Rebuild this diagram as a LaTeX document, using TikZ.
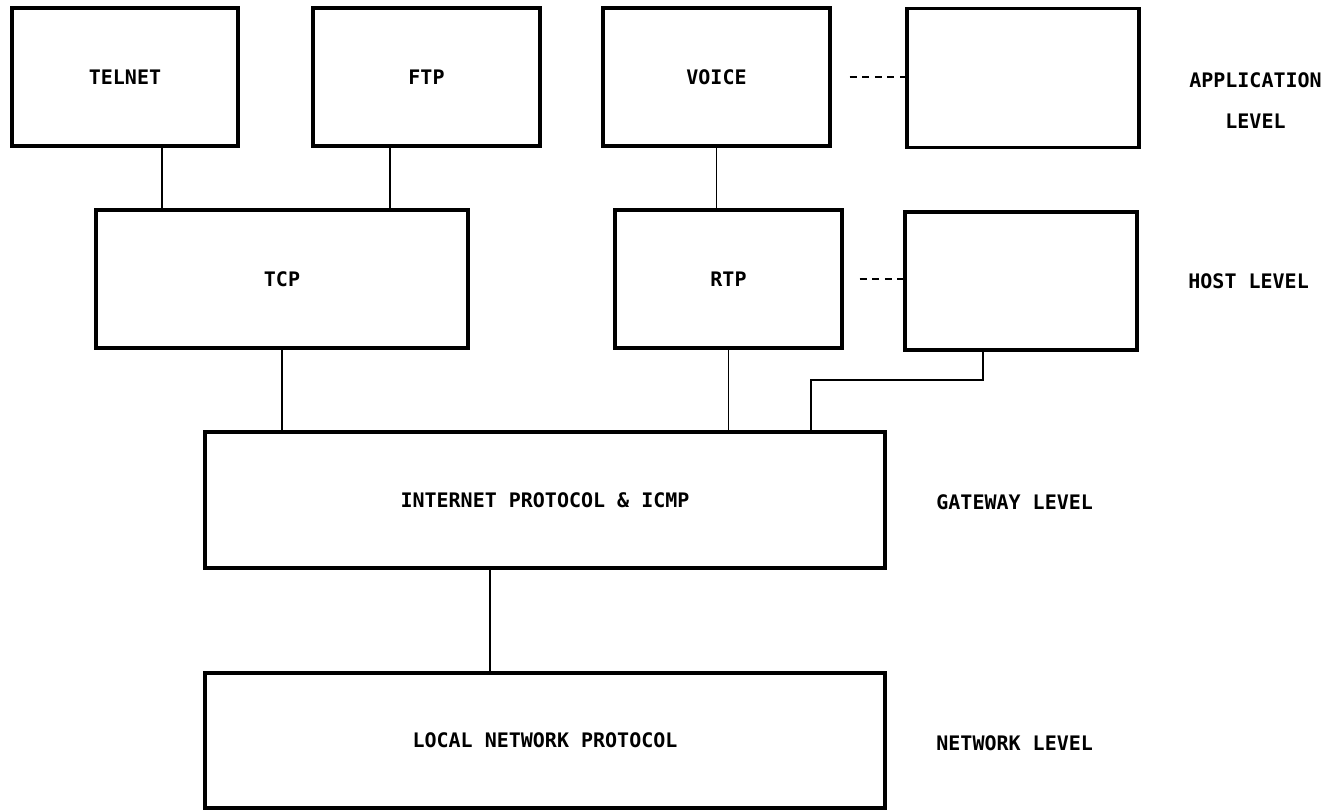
\documentclass[tikz,border=0pt]{standalone}
\usepackage{fontspec}
\setmainfont{DejaVu Sans Mono}
\begin{document}
\begin{tikzpicture}[x=0.5pt, y=-0.5pt,
    font=\fontsize{10}{12}\selectfont\bfseries,
    layer/.style 2 args={draw, line width=1.6pt, inner sep=0pt,
        minimum width=#1*0.5pt, minimum height=#2*0.5pt},
    link/.style={line width=0.65pt},
    more/.style={line width=1.1pt, dash pattern=on 3.5pt off 2.8pt},
    level/.style={inner sep=0pt, anchor=west}]

    \useasboundingbox (0,0) rectangle (1344,810);

    % ============================================================
    % APPLICATION LEVEL
    % ============================================================
    \node[layer={226}{138}] (telnet) at (125,77) {TELNET};
    \node[layer={227}{138}] (ftp) at (426.5,77) {FTP};
    \node[layer={227}{138}] (voice) at (716.5,77) {VOICE};
    \node[layer={232}{139}] (appmore) at (1023,78) {};

    % ============================================================
    % HOST LEVEL
    % ============================================================
    \node[layer={372}{138}] (tcp) at (282,279) {TCP};
    \node[layer={227}{138}] (rtp) at (728.5,279) {RTP};
    \node[layer={232}{138}] (hostmore) at (1021,281) {};

    % ============================================================
    % GATEWAY AND NETWORK LEVEL
    % ============================================================
    \node[layer={680}{136}] (ip) at (545,500) {INTERNET PROTOCOL \& ICMP};
    \node[layer={680}{135}] (lnp) at (545,740.5) {LOCAL NETWORK PROTOCOL};

    % ============================================================
    % LEVEL NAMES
    % ============================================================
    \node[align=center, font=\fontsize{10}{20.5}\selectfont\bfseries]
        (applbl) at (1255.5,100.5) {APPLICATION\\LEVEL};
    \node[level] (hostlbl) at (1188,281) {HOST LEVEL};
    \node[level] (gwlbl) at (936,502) {GATEWAY LEVEL};
    \node[level] (netlbl) at (936,743) {NETWORK LEVEL};

    % ============================================================
    % CONNECTIONS
    % ============================================================
    \coordinate (telnetx) at (162,0);
    \coordinate (ftpx) at (390,0);
    \coordinate (lnpx) at (490,0);
    \coordinate (hostdrop) at (983,380);
    \coordinate (ipdrop) at (811,380);

    \draw[link] (telnet.south -| telnetx) -- (tcp.north -| telnetx);
    \draw[link] (ftp.south -| ftpx) -- (tcp.north -| ftpx);
    \draw[link] (voice.south) -- (rtp.north -| voice.south);
    \draw[link] (tcp.south) -- (ip.north -| tcp.south);
    \draw[link] (rtp.south) -- (ip.north -| rtp.south);
    \draw[link] (hostmore.south -| hostdrop) -- (hostdrop)
        -- (ipdrop) -- (ip.north -| ipdrop);
    \draw[link] (ip.south -| lnpx) -- (lnp.north -| lnpx);

    % further protocols
    \draw[more, shorten <=9pt] (voice.east) -- (appmore.west |- voice.east);
    \draw[more, shorten <=8pt] (rtp.east) -- (hostmore.west |- rtp.east);

\end{tikzpicture}
\end{document}
